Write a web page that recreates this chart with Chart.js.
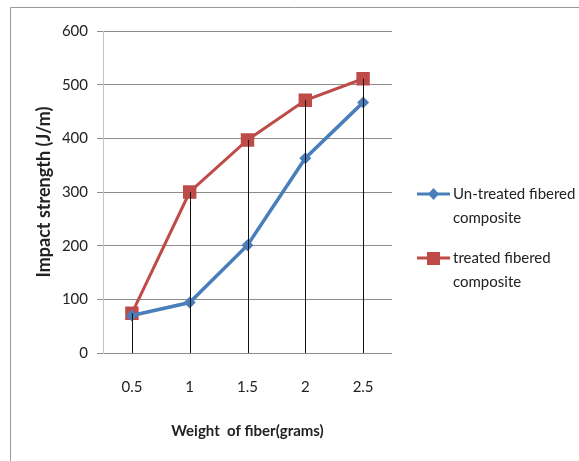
<!DOCTYPE html>
<html>
<head>
<meta charset="utf-8">
<script src="https://cdn.jsdelivr.net/npm/chart.js@4.4.1/dist/chart.umd.min.js"></script>
<style>
    html, body { margin: 0; padding: 0; background: #fff; }
    #wrap { width: 579px; height: 461px; }
</style>
</head>
<body>
<div id="wrap"><canvas id="impactChart" width="579" height="461"></canvas></div>
<script>
// chart data
const fiberWeights = ['0.5', '1', '1.5', '2', '2.5'];
const untreatedValues = [70, 94, 201, 363, 467];
const treatedValues = [74, 300, 397, 471, 511];
const yTicks = [0, 100, 200, 300, 400, 500, 600];
const legendLines = [['Un-treated fibered', 'composite'], ['treated fibered', 'composite']];

const blue = '#4a7ebb';
const red = '#be4b48';
const fontFamily = "Lato, 'Liberation Sans', sans-serif";

Chart.defaults.font.family = fontFamily;
Chart.defaults.color = '#222';

// outer frame of the picture
const framePlugin = {
    id: 'frame',
    beforeDraw(chart) {
        const ctx = chart.ctx;
        ctx.save();
        ctx.strokeStyle = '#9a9a9a';
        ctx.lineWidth = 1;
        ctx.beginPath();
        ctx.moveTo(10.5, 470);
        ctx.lineTo(10.5, 7.5);
        ctx.lineTo(590, 7.5);
        ctx.stroke();
        ctx.restore();
    }
};

// black drop lines from the highest point of each category down to zero
const dropLinesPlugin = {
    id: 'dropLines',
    afterDatasetsDraw(chart) {
        const ctx = chart.ctx;
        const x = chart.scales.x;
        const y = chart.scales.y;
        ctx.save();
        ctx.strokeStyle = '#111';
        ctx.lineWidth = 1;
        fiberWeights.forEach((w, i) => {
            const top = Math.max(untreatedValues[i], treatedValues[i]);
            const px = Math.round(x.getPixelForValue(i)) + 0.5;
            ctx.beginPath();
            ctx.moveTo(px, y.getPixelForValue(top));
            ctx.lineTo(px, y.getPixelForValue(0));
            ctx.stroke();
        });
        ctx.restore();
    }
};

// legend with two-line labels on the right
const sideLegendPlugin = {
    id: 'sideLegend',
    afterDraw(chart) {
        const ctx = chart.ctx;
        const startX = 417;
        const rows = [194, 258];
        ctx.save();
        chart.data.datasets.forEach((ds, i) => {
            const cy = rows[i];
            ctx.strokeStyle = ds.borderColor;
            ctx.lineWidth = 3;
            ctx.beginPath();
            ctx.moveTo(startX, cy);
            ctx.lineTo(startX + 33, cy);
            ctx.stroke();
            ctx.fillStyle = ds.backgroundColor;
            if (ds.pointStyle === 'rect') {
                ctx.fillRect(startX + 10, cy - 6, 13, 13);
            } else {
                ctx.beginPath();
                ctx.moveTo(startX + 16.5, cy - 6);
                ctx.lineTo(startX + 22, cy);
                ctx.lineTo(startX + 16.5, cy + 6);
                ctx.lineTo(startX + 11, cy);
                ctx.closePath();
                ctx.fill();
            }
            ctx.fillStyle = '#222';
            ctx.font = '15px ' + fontFamily;
            ctx.textBaseline = 'middle';
            legendLines[i].forEach((line, j) => {
                ctx.fillText(line, startX + 36, cy + j * 24);
            });
        });
        ctx.restore();
    }
};

const ctx = document.getElementById('impactChart').getContext('2d');
new Chart(ctx, {
    type: 'line',
    data: {
        labels: fiberWeights,
        datasets: [{
            label: legendLines[0].join(' '),
            data: untreatedValues,
            borderColor: blue,
            backgroundColor: blue,
            borderWidth: 3.5,
            pointStyle: 'rectRot',
            pointRadius: 6,
            pointBorderWidth: 0,
            tension: 0
        }, {
            label: legendLines[1].join(' '),
            data: treatedValues,
            borderColor: red,
            backgroundColor: red,
            borderWidth: 3,
            pointStyle: 'rect',
            pointRadius: 9.5,
            pointBorderWidth: 0,
            tension: 0
        }]
    },
    options: {
        responsive: false,
        animation: false,
        layout: {
            padding: { top: 31, left: 10, right: 187, bottom: 0 }
        },
        scales: {
            x: {
                offset: true,
                grid: { display: false, drawTicks: false },
                border: { display: false },
                ticks: { padding: 25, font: { size: 15 } },
                title: {
                    display: true,
                    text: 'Weight  of fiber(grams)',
                    font: { size: 15, weight: 'bold' },
                    padding: { bottom: 21 }
                },
                afterFit(scale) { scale.height = 108; }
            },
            y: {
                min: 0,
                max: 600,
                afterBuildTicks(scale) {
                    scale.ticks = yTicks.map(v => ({ value: v }));
                },
                grid: { color: '#8c8c8c', lineWidth: 1, tickLength: 6 },
                border: { color: '#c4c4c4' },
                ticks: { padding: 9, font: { size: 15 } },
                title: {
                    display: true,
                    text: 'Impact strength (J/m)',
                    font: { size: 18, weight: 'bold' },
                    padding: { top: 23 }
                },
                afterFit(scale) { scale.width = 93; }
            }
        },
        plugins: {
            legend: { display: false },
            tooltip: { enabled: false }
        }
    },
    plugins: [framePlugin, dropLinesPlugin, sideLegendPlugin]
});
</script>
</body>
</html>
